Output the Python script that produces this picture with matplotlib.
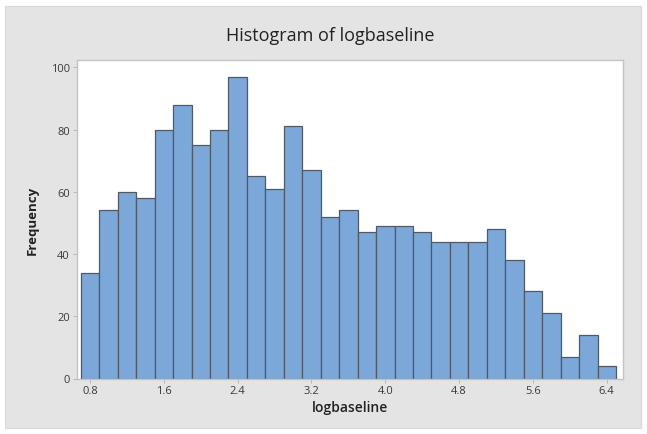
import matplotlib.pyplot as plt
import matplotlib.patches as patches
import numpy as np

# bin midpoints (width 0.2) and counts
bin_width = 0.2
bin_centers = np.round(np.arange(0.8, 6.41, 0.2), 2)
counts = [34, 54, 60, 58, 80, 88, 75, 80, 97, 65, 61, 81, 67, 52, 54,
          47, 49, 49, 47, 44, 44, 44, 48, 38, 28, 21, 7, 14, 4]

x_ticks = [0.8, 1.6, 2.4, 3.2, 4.0, 4.8, 5.6, 6.4]
y_ticks = [0, 20, 40, 60, 80, 100]

W, H = 647, 435
fig = plt.figure(figsize=(W / 100, H / 100), dpi=100, facecolor='white')
plt.rcParams['font.family'] = ['Open Sans', 'DejaVu Sans']

# grey graph region behind the plot
fig.patches.append(patches.Rectangle((5 / W, 1 - 429 / H), 636 / W, 422 / H,
                                     transform=fig.transFigure,
                                     facecolor='#e4e4e4', edgecolor='#d8d8d8',
                                     linewidth=0.8, zorder=-1))

ax = fig.add_axes([77 / W, 1 - 379.5 / H, (622.7 - 77) / W, (379.5 - 60.5) / H])
ax.set_facecolor('white')
ax.bar(bin_centers, counts, width=bin_width, color='#7ba7d9',
       edgecolor='#505a66', linewidth=0.9)

ax.set_xlim(0.659, 6.573)
ax.set_ylim(0, 102.5)
ax.set_xticks(x_ticks)
ax.set_xticklabels([f'{t:.1f}' for t in x_ticks])
ax.set_yticks(y_ticks)

for s in ax.spines.values():
    s.set_color('#c4c4c4')
    s.set_linewidth(1.0)
ax.tick_params(axis='both', length=3, width=0.6, color='#b0b0b0',
               labelsize=8, labelcolor='#3a3a3a', pad=2)

fig.text(330 / W, 1 - 36 / H, 'Histogram of logbaseline', fontsize=13,
         fontweight='medium', color='#222222', ha='center', va='center')
ax.set_xlabel('logbaseline', fontsize=10, fontweight='semibold',
              color='#222222')
ax.set_ylabel('Frequency', fontsize=9.5, fontweight='bold',
              color='#222222')
ax.xaxis.set_label_coords(0.5, -(401 - 379.5) / 319)
ax.yaxis.set_label_coords(-(77 - 39) / 545.7, 0.5)

fig.savefig('out.png', dpi=100, facecolor='white')
